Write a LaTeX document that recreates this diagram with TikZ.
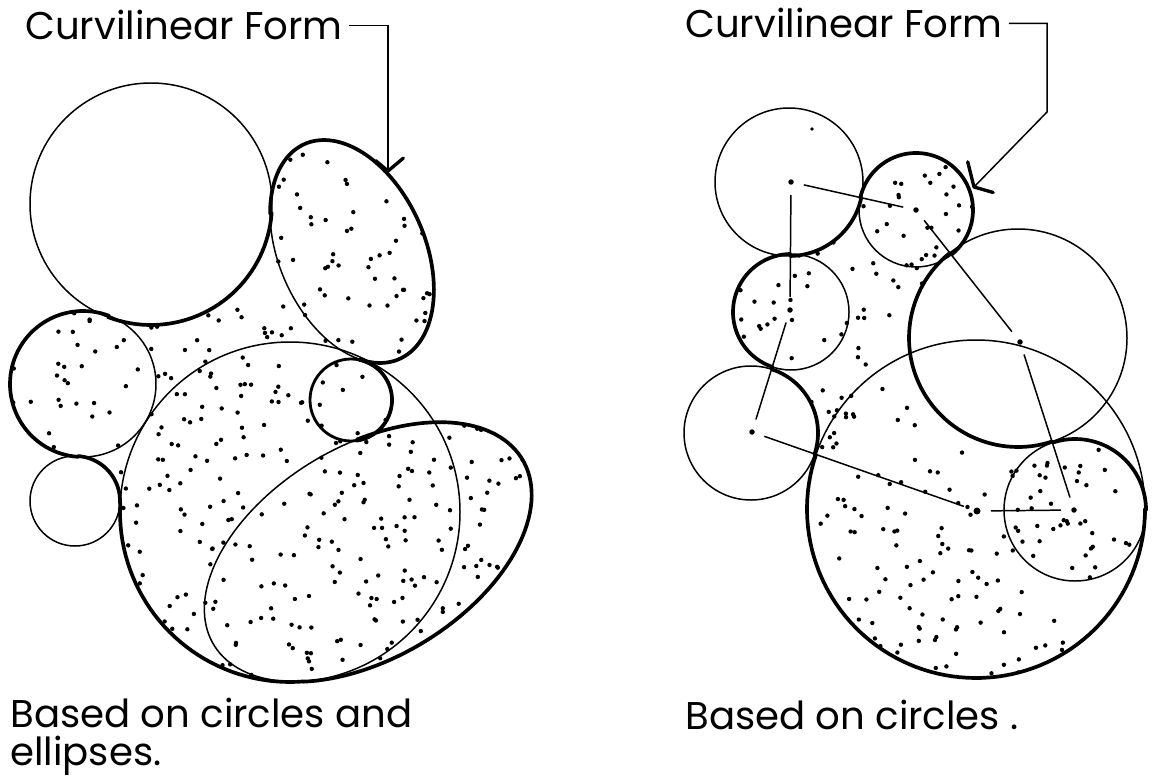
\documentclass[tikz,border=0pt]{standalone}
\usepackage{fontspec}
\setmainfont{Poppins}
\usetikzlibrary{calc}
\begin{document}
\begin{tikzpicture}[x=0.02cm,y=-0.02cm,
  thinline/.style={line width=0.85pt},
  thickline/.style={line width=2.1pt, line join=round},
  midline/.style={line width=1.6pt},
  centerdot/.style={circle, fill, inner sep=0pt, minimum size=0.11cm},
  link/.style={line width=0.85pt, shorten <=0.2cm, shorten >=0.2cm},
  lab/.style={font=\fontsize{22}{21.5}\selectfont, inner sep=0pt, anchor=base west},
  barb/.style={line width=1.9pt, line cap=round},
  leader/.style={line width=0.85pt},
  stip/.style={fill=black}
]
\useasboundingbox (0,0) rectangle (1153,777);

% ---------------- left form outline ----------------
\def\formL{
 plot[domain=125.4:388,samples=90] ({352+47.4*cos(\x)-66.8*sin(\x)},{251.5+107.5*cos(\x)+29.5*sin(\x)})
 -- plot[domain=-78.7:81.5,samples=40] ({351+41*cos(\x)},{400+41*sin(\x)})
 -- plot[domain=-74.4:133,samples=80] ({368+154.3*cos(\x)+54.6*sin(\x)},{552-92.7*cos(\x)+90.9*sin(\x)})
 -- plot[domain=85:182.9,samples=40] ({290+170*cos(\x)},{512+170*sin(\x)})
 -- plot[domain=2.9:-86.1,samples=30] ({75+45*cos(\x)},{501+45*sin(\x)})
 -- plot[domain=93.9:290.7,samples=60] ({83+73*cos(\x)},{384+73*sin(\x)})
 -- plot[domain=110.7:4.3,samples=40] ({151+121*cos(\x)},{204+121*sin(\x)})
 -- cycle}

% ---------------- right form outline ----------------
\def\formR{
 plot[domain=192.4:411.4,samples=80] ({916+57*cos(\x)},{210+57*sin(\x)})
 -- plot[domain=231.4:71.7,samples=60] ({1018+109*cos(\x)},{338+109*sin(\x)})
 -- plot[domain=251.7:360,samples=40] ({1075+71*cos(\x)},{510+71*sin(\x)})
 -- plot[domain=0:198.7,samples=80] ({976+169*cos(\x)},{509+169*sin(\x)})
 -- plot[domain=18.7:-71.7,samples=40] ({751+67*cos(\x)},{433+67*sin(\x)})
 -- plot[domain=108.3:269.1,samples=50] ({791+58*cos(\x)},{312+58*sin(\x)})
 -- plot[domain=89.1:12.4,samples=30] ({789+74*cos(\x)},{182+74*sin(\x)})
 -- cycle}

% ---------------- stipple ----------------
\pgfmathsetseed{4711}
\begin{scope}
  \clip \formL;
  \foreach \i in {1,...,640}{
    \pgfmathsetmacro\stipx{8+524*rnd}
    \pgfmathsetmacro\stipy{140+542*rnd}
    \fill[stip] (\stipx,\stipy) circle[radius=2.2];
  }
\end{scope}
\begin{scope}
  \clip \formR;
  \foreach \i in {1,...,520}{
    \pgfmathsetmacro\stipx{683+463*rnd}
    \pgfmathsetmacro\stipy{150+530*rnd}
    \fill[stip] (\stipx,\stipy) circle[radius=2.2];
  }
\end{scope}

% ---------------- left: thin construction shapes ----------------
\draw[thinline] (151,204) circle[radius=121];
\draw[thinline] (83,384) circle[radius=73];
\draw[thinline] (75,501) circle[radius=45];
\draw[thinline] (290,512) circle[radius=170];
\draw[thinline] plot[domain=0:360,samples=120] ({352+47.4*cos(\x)-66.8*sin(\x)},{251.5+107.5*cos(\x)+29.5*sin(\x)}) -- cycle;
\draw[thinline] plot[domain=0:360,samples=150] ({368+154.3*cos(\x)+54.6*sin(\x)},{552-92.7*cos(\x)+90.9*sin(\x)}) -- cycle;
\draw[midline] (351,400) circle[radius=41];
\draw[thickline] \formL;

% ---------------- right: thin construction circles ----------------
\draw[thinline] (789,182) circle[radius=74];
\draw[thinline] (916,210) circle[radius=57];
\draw[thinline] (791,312) circle[radius=58];
\draw[thinline] (751,433) circle[radius=67];
\draw[thinline] (1018,338) circle[radius=109];
\draw[thinline] (976,509) circle[radius=169];
\draw[thinline] (1075,510) circle[radius=71];
\draw[thickline] \formR;

% centre points and links
\node[centerdot] (r1) at (791,182) {};
\node[centerdot] (r2) at (916,210) {};
\node[centerdot] (r3) at (790,310) {};
\node[centerdot] (r4) at (752,432) {};
\node[centerdot] (r5) at (1020,342) {};
\node[centerdot, minimum size=0.14cm] (r6) at (977,511) {};
\node[centerdot] (r7) at (1074,510) {};
\draw[link] (r1) -- (r2);
\draw[link] (r1) -- (r3);
\draw[link] (r2) -- (r5);
\draw[link] (r3) -- (r4);
\draw[link] (r4) -- (r6);
\draw[link] (r5) -- (r7);
\draw[link] (r6) -- (r7);
\fill (812,129) circle[radius=1.8];

% ---------------- labels and leaders ----------------
\node[lab] (labL) at (25,40) {Curvilinear Form};
\coordinate (tipL) at (388,171);
\draw[leader] ([xshift=0.12cm]labL.east) -| (tipL);
\draw[barb] (tipL) -- ++(-40:20);
\draw[barb] (tipL) -- ++(-140:16);

\node[lab] (labR) at (685,38) {Curvilinear Form};
\coordinate (kneeR) at (1047,112);
\coordinate (tipR) at (974,187);
\draw[leader] ([xshift=0.12cm]labR.east) -| (kneeR) -- (tipR);
\draw[barb] (tipR) -- ++(-104:26);
\draw[barb] (tipR) -- ++(16:20);

\node[lab, align=left] (capL) at (10,765) {Based on circles and\\ellipses.};
\node[lab] (capR) at (685,729) {Based on circles .};
\end{tikzpicture}
\end{document}
